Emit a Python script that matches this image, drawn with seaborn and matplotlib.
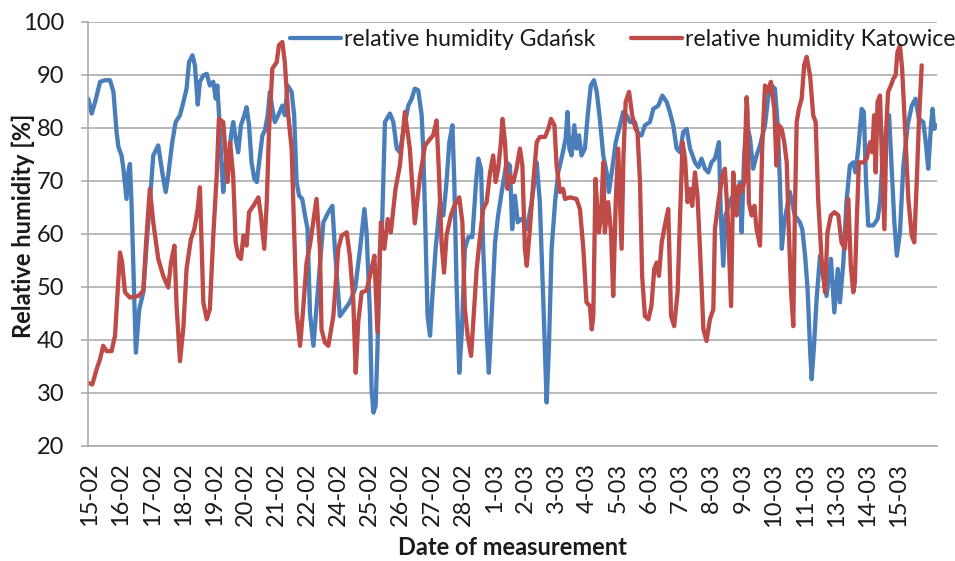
import numpy as np
import pandas as pd
import seaborn as sns
import matplotlib.pyplot as plt

# category labels on the x axis (one per day)
date_labels = ['15-02', '16-02', '17-02', '18-02', '19-02', '20-02', '21-02',
               '22-02', '24-02', '25-02', '26-02', '27-02', '28-02', '1-03',
               '2-03', '3-03', '4-03', '5-03', '6-03', '7-03', '8-03', '9-03',
               '10-03', '11-03', '13-03', '14-03', '15-03']

# time in days from the first label, relative humidity in %
gdansk_day = [
    0.01, 0.12, 0.23, 0.39, 0.55, 0.71, 0.82, 0.92, 0.98, 1.08, 1.14, 1.24, 1.30, 1.35,
    1.40, 1.46, 1.54, 1.65, 1.78, 1.89, 1.99, 2.10, 2.26, 2.39, 2.50, 2.58, 2.71, 2.82,
    2.96, 3.07, 3.17, 3.25, 3.36, 3.44, 3.53, 3.60, 3.71, 3.82, 3.92, 4.03, 4.11, 4.16,
    4.21, 4.28, 4.35, 4.43, 4.51, 4.60, 4.67, 4.75, 4.83, 4.92, 5.03, 5.10, 5.18, 5.26,
    5.35, 5.43, 5.53, 5.61, 5.69, 5.78, 5.85, 5.93, 6.01, 6.12, 6.25, 6.33, 6.42, 6.55,
    6.63, 6.71, 6.79, 6.89, 6.98, 7.06, 7.14, 7.25, 7.57, 7.73, 7.86, 7.94, 8.10, 8.26,
    8.42, 8.59, 8.75, 8.89, 8.96, 9.07, 9.12, 9.18, 9.25, 9.31, 9.39, 9.46, 9.55, 9.71,
    9.82, 9.93, 10.03, 10.14, 10.30, 10.41, 10.51, 10.62, 10.73, 10.78, 10.84, 10.92,
    11.00, 11.07, 11.18, 11.32, 11.43, 11.53, 11.62, 11.72, 11.78, 11.85, 11.94, 12.02,
    12.12, 12.23, 12.36, 12.48, 12.55, 12.64, 12.71, 12.82, 12.89, 12.98, 13.09, 13.19,
    13.32, 13.46, 13.57, 13.64, 13.73, 13.82, 13.92, 14.05, 14.11, 14.27, 14.43, 14.53,
    14.64, 14.75, 14.82, 14.91, 15.02, 15.12, 15.25, 15.36, 15.42, 15.48, 15.55, 15.64,
    15.71, 15.79, 15.87, 15.98, 16.07, 16.17, 16.27, 16.36, 16.46, 16.57, 16.68, 16.75,
    16.86, 16.97, 17.11, 17.21, 17.32, 17.43, 17.59, 17.70, 17.80, 17.91, 18.07, 18.18,
    18.34, 18.47, 18.61, 18.71, 18.82, 18.93, 19.04, 19.14, 19.25, 19.36, 19.52, 19.63,
    19.73, 19.84, 19.95, 20.05, 20.16, 20.29, 20.35, 20.43, 20.50, 20.64, 20.78, 20.86,
    20.97, 21.02, 21.10, 21.18, 21.29, 21.39, 21.50, 21.61, 21.77, 21.88, 21.98, 22.09,
    22.18, 22.25, 22.31, 22.39, 22.57, 22.73, 22.89, 22.97, 23.06, 23.14, 23.22, 23.27,
    23.34, 23.43, 23.54, 23.64, 23.75, 23.89, 24.00, 24.11, 24.18, 24.29, 24.39, 24.50,
    24.61, 24.68, 24.77, 24.88, 24.95, 25.02, 25.09, 25.25, 25.39, 25.47, 25.54, 25.65,
    25.76, 25.84, 25.93, 26.01, 26.11, 26.22, 26.36, 26.49, 26.61, 26.72, 26.86, 26.94,
    27.02, 27.11, 27.16, 27.21, 27.29]
gdansk_rh = [
    85.5, 82.7, 84.9, 88.7, 89.0, 89.0, 86.8, 79.2, 76.4, 74.8, 72.3, 66.6, 71.7, 73.2,
    66.0, 54.0, 37.6, 45.8, 49.0, 58.4, 66.0, 74.8, 76.7, 71.6, 67.9, 71.0, 77.3, 81.1,
    82.4, 84.9, 87.4, 92.4, 93.7, 91.8, 84.4, 88.7, 89.9, 90.2, 88.0, 88.7, 85.5, 88.0,
    83.0, 74.8, 67.9, 73.5, 72.3, 78.6, 81.1, 78.0, 75.4, 80.5, 82.4, 83.9, 80.5, 73.5,
    70.4, 69.8, 74.8, 78.6, 79.5, 82.4, 86.8, 83.6, 81.1, 82.4, 84.2, 82.4, 88.0, 86.8,
    82.4, 69.8, 67.2, 66.6, 63.5, 61.0, 45.0, 38.9, 62.2, 64.1, 65.3, 57.2, 44.5, 45.8,
    47.1, 49.6, 57.2, 64.7, 60.3, 44.5, 30.7, 26.3, 27.6, 38.3, 57.2, 62.2, 81.1, 82.7,
    81.1, 76.1, 75.4, 79.2, 84.2, 85.5, 87.4, 87.1, 82.4, 76.1, 63.5, 44.5,
    40.8, 47.7, 57.2, 66.0, 63.5, 69.8, 77.3, 80.5, 69.8, 50.9, 33.8, 41.4,
    57.2, 59.4, 59.4, 69.8, 74.2, 72.3, 57.2, 41.5, 33.8, 44.5, 58.4, 63.5,
    68.5, 73.5, 72.9, 60.9, 67.2, 62.2, 62.8, 62.2, 60.9, 66.0, 73.5, 66.0,
    47.7, 28.2, 38.3, 57.2, 66.0, 71.6, 74.8, 78.0, 83.0, 76.1, 74.8, 80.5,
    76.1, 78.6, 74.8, 76.1, 82.4, 88.0, 89.0, 86.8, 81.7, 74.8, 71.6, 67.9,
    72.3, 77.3, 80.5, 83.0, 82.4, 81.1, 81.1, 78.6, 78.6, 80.5, 81.1, 83.6,
    84.2, 86.1, 84.9, 83.0, 80.5, 76.1, 75.4, 79.2, 79.8, 76.1, 73.5, 72.6,
    74.2, 72.3, 71.6, 73.5, 74.2, 77.3, 63.5, 54.0, 63.5, 66.0, 67.9, 66.0,
    69.8, 60.3, 74.8, 81.1, 78.0, 72.3, 74.8, 76.7, 80.5, 86.1, 88.0, 87.4,
    80.5, 69.8, 57.2, 62.2, 67.9, 63.5, 62.2, 60.9, 55.9, 49.6, 38.3, 32.6,
    38.3, 47.7, 55.9, 52.1, 48.3, 55.3, 45.2, 53.4, 47.1, 54.6, 66.0, 72.9,
    73.5, 71.6, 76.1, 83.6, 83.0, 69.8, 61.6, 61.6, 62.8, 66.0, 72.9, 79.2,
    82.4, 72.9, 62.2, 55.9, 60.3, 72.9, 80.5, 84.2, 85.5, 81.7, 81.1, 77.3,
    72.3, 80.5, 83.6, 79.8, 80.5]

katowice_day = [
    0.01, 0.14, 0.28, 0.39, 0.49, 0.60, 0.76, 0.87, 0.94, 1.03, 1.10, 1.19, 1.35, 1.62,
    1.78, 1.87, 1.99, 2.10, 2.26, 2.42, 2.58, 2.67, 2.78, 2.85, 2.96, 3.07, 3.17, 3.31,
    3.42, 3.53, 3.60, 3.71, 3.82, 3.92, 4.03, 4.14, 4.21, 4.35, 4.43, 4.49, 4.57, 4.67,
    4.75, 4.83, 4.92, 5.00, 5.10, 5.18, 5.32, 5.48, 5.56, 5.67, 5.75, 5.82, 5.93, 6.07,
    6.14, 6.25, 6.33, 6.44, 6.55, 6.63, 6.71, 6.82, 6.92, 7.03, 7.14, 7.35, 7.46, 7.51,
    7.62, 7.73, 7.89, 8.05, 8.16, 8.32, 8.42, 8.53, 8.61, 8.69, 8.80, 8.96, 9.12, 9.21,
    9.31, 9.42, 9.53, 9.64, 9.74, 9.89, 10.03, 10.19, 10.35, 10.51, 10.68, 10.84, 11.00,
    11.10, 11.21, 11.29, 11.37, 11.45, 11.53, 11.67, 11.78, 11.94, 12.04, 12.12, 12.21,
    12.32, 12.39, 12.50, 12.61, 12.71, 12.82, 12.93, 13.03, 13.11, 13.19, 13.28, 13.33,
    13.41, 13.49, 13.57, 13.68, 13.78, 13.89, 13.97, 14.05, 14.11, 14.21, 14.32, 14.43,
    14.53, 14.70, 14.80, 14.89, 15.00, 15.07, 15.18, 15.28, 15.34, 15.50, 15.71, 15.82,
    15.93, 16.03, 16.14, 16.20, 16.25, 16.32, 16.39, 16.43, 16.50, 16.57, 16.62, 16.73,
    16.82, 16.89, 16.97, 17.05, 17.16, 17.22, 17.29, 17.40, 17.50, 17.61, 17.67, 17.75,
    17.82, 17.91, 18.02, 18.12, 18.21, 18.29, 18.36, 18.45, 18.55, 18.66, 18.75, 18.85,
    18.96, 19.04, 19.12, 19.20, 19.28, 19.36, 19.43, 19.52, 19.60, 19.68, 19.79, 19.89,
    20.00, 20.11, 20.16, 20.27, 20.40, 20.48, 20.57, 20.68, 20.75, 20.86, 20.93, 21.02,
    21.10, 21.18, 21.21, 21.25, 21.34, 21.43, 21.50, 21.61, 21.68, 21.77, 21.85, 21.96,
    22.07, 22.14, 22.22, 22.31, 22.39, 22.47, 22.52, 22.61, 22.68, 22.73, 22.79, 22.86,
    22.95, 23.03, 23.11, 23.22, 23.32, 23.40, 23.48, 23.59, 23.70, 23.78, 23.89, 24.00,
    24.13, 24.23, 24.34, 24.45, 24.53, 24.61, 24.66, 24.72, 24.79, 24.93, 25.04, 25.15,
    25.22, 25.28, 25.33, 25.39, 25.47, 25.52, 25.61, 25.68, 25.73, 25.82, 25.90, 25.97,
    26.03, 26.11, 26.18, 26.27, 26.38, 26.49, 26.57, 26.65, 26.72, 26.81]
katowice_rh = [
    31.9, 31.6, 34.5, 36.4, 38.9, 37.9, 37.9, 40.8, 47.7, 56.5, 54.6, 49.0, 48.0, 48.3,
    49.3, 58.4, 68.5, 62.2, 55.3, 52.1, 49.9, 54.6, 57.8, 46.4, 36.0, 42.5, 53.4, 59.0,
    60.9, 64.7, 68.8, 47.1, 43.9, 45.8, 59.7, 71.0, 81.7, 81.1, 74.8, 69.8, 77.3, 71.0,
    58.4, 55.9, 55.3, 59.7, 57.8, 64.1, 65.3, 66.9, 63.5, 57.2, 66.0, 79.2, 91.2, 92.4,
    95.6, 96.2, 92.4, 82.4, 76.1, 60.3, 45.2, 38.9, 45.8, 54.6, 58.0, 66.6, 57.2, 42.0,
    39.5, 38.9, 44.5, 57.2, 59.7, 60.3, 55.9, 47.7, 33.8, 43.3, 49.0, 49.3, 53.4, 55.9,
    41.5, 62.2, 57.2, 62.8, 60.3, 68.5, 72.9, 83.0, 76.1, 62.0, 71.0, 76.7, 77.9,
    78.6, 81.4, 71.0, 58.4, 52.7, 59.7, 63.5, 65.3, 66.9, 62.2, 45.8, 40.8,
    37.0, 43.3, 53.4, 59.7, 64.7, 66.0, 71.6, 74.8, 69.8, 72.3, 77.3, 81.7,
    77.3, 68.5, 71.0, 69.8, 72.3, 76.1, 72.9, 57.2, 54.0, 60.9, 69.8, 77.3,
    78.3, 78.3, 79.8, 81.7, 80.5, 72.9, 67.9, 68.5, 66.6, 66.9, 66.6, 64.7,
    57.2, 47.1, 46.4, 42.0, 44.5, 70.4, 63.5, 60.3, 63.5, 73.5, 60.3, 66.0,
    60.3, 48.3, 66.0, 76.1, 57.2, 74.8, 84.9, 86.8, 82.4, 79.8, 79.2, 70.0,
    52.1, 44.5, 43.9, 46.4, 53.4, 54.6, 52.1, 58.4, 61.6, 64.7, 44.5, 42.6,
    49.0, 63.5, 77.3, 74.2, 66.0, 68.5, 65.3, 71.6, 67.2, 57.2, 42.0, 39.8,
    43.9, 45.8, 60.9, 66.0, 71.0, 72.3, 63.5, 46.4, 71.6, 63.5, 69.1, 67.9,
    69.8, 85.8, 83.0, 66.0, 63.5, 65.3, 60.9, 57.8, 76.1, 88.0, 86.8, 88.7,
    83.6, 72.9, 80.5, 79.8, 77.3, 73.5, 63.5, 49.0, 42.6, 63.5, 81.1, 83.6,
    85.5, 91.8, 93.4, 89.9, 82.4, 81.1, 66.6, 55.3, 49.0, 60.3, 63.5, 64.1,
    63.5, 58.4, 57.2, 66.6, 54.0, 49.0, 50.9, 62.2, 73.5, 73.5, 74.2, 77.3,
    75.4, 82.4, 71.6, 84.9, 86.1, 76.1, 60.9, 81.1, 86.8, 88.0, 89.3, 89.9,
    94.3, 95.5, 91.2, 80.5, 66.6, 59.7, 58.4, 69.8, 81.1, 91.8]

BLUE = '#4A7EBB'
RED = '#BE4B48'
GRID = '#A6A6A6'
TEXT = '#1A1A1A'

sns.set_style('white')
plt.rcParams['font.family'] = ['Lato', 'DejaVu Sans']

fig = plt.figure(figsize=(9.55, 5.61), dpi=100)
ax = fig.add_axes([0.0921, 0.205, 0.889, 0.756])

sns.lineplot(x=gdansk_day, y=gdansk_rh, ax=ax, color=BLUE, linewidth=3.1,
             estimator=None, label='relative humidity Gdańsk')
sns.lineplot(x=katowice_day, y=katowice_rh, ax=ax, color=RED, linewidth=3.1,
             estimator=None, label='relative humidity Katowice')

ax.set_xlim(0, 27.3)
ax.set_ylim(20, 100)
ax.set_yticks(np.arange(20, 101, 10))
ax.yaxis.grid(True, color=GRID, linewidth=1.1)
ax.xaxis.grid(False)
ax.set_axisbelow(True)

ax.set_xticks(np.arange(len(date_labels)) + 0.06)
ax.set_xticklabels(date_labels, rotation=90)
ax.set_xticks([0, 19.58], minor=True)
ax.tick_params(axis='x', which='major', length=0, pad=12, labelsize=17, labelcolor=TEXT)
ax.tick_params(axis='x', which='minor', length=5, width=1.1, color=GRID, direction='out')
ax.tick_params(axis='y', length=5, width=1.1, color=GRID, direction='out', pad=12,
               labelsize=17, labelcolor=TEXT, left=True)

for side in ['top', 'right']:
    ax.spines[side].set_visible(False)
for side in ['left', 'bottom']:
    ax.spines[side].set_color(GRID)
    ax.spines[side].set_linewidth(1.1)

ax.set_xlabel('Date of measurement', fontsize=17, fontweight='bold', color=TEXT)
ax.set_ylabel('Relative humidity [%]', fontsize=17, fontweight='bold', color=TEXT)
ax.xaxis.set_label_coords(0.5, -0.212)
ax.yaxis.set_label_coords(-0.062, 0.52)

handles, labels = ax.get_legend_handles_labels()
ax.get_legend().remove()
fig.legend(handles, labels, loc='center left', bbox_to_anchor=(0.3037, 0.9287),
           ncol=2, frameon=False, fontsize=16.6, borderpad=0, borderaxespad=0,
           handlelength=2.2, handletextpad=0.13, columnspacing=1.55, labelcolor=TEXT)

fig.savefig('out.png', dpi=100)
